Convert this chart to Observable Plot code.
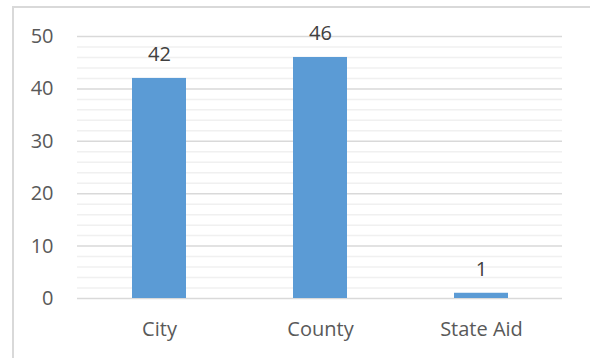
<!DOCTYPE html>
<html>
<head>
<meta charset="utf-8">
<script src="https://cdn.jsdelivr.net/npm/d3@7"></script>
<script src="https://cdn.jsdelivr.net/npm/@observablehq/plot@0.6"></script>
<style>
  html, body { margin: 0; padding: 0; background: #fff; }
  #wrap { position: relative; width: 590px; height: 358px; overflow: hidden; }
  #frame { position: absolute; left: 12px; top: 6px; width: 640px; height: 400px; border: 2px solid #d9d9d9; box-sizing: border-box; pointer-events: none; }
  #chart { position: absolute; left: 0; top: 0; }
</style>
</head>
<body>
<div id="wrap"><div id="frame"></div><div id="chart"></div></div>
<script>
const categories = ["City", "County", "State Aid"];
const values = [42, 46, 1];
const majorTicks = [0, 10, 20, 30, 40, 50];
const minorTicks = [2, 4, 6, 8, 12, 14, 16, 18, 22, 24, 26, 28, 32, 34, 36, 38, 42, 44, 46, 48];

const data = categories.map((c, i) => ({category: c, value: values[i]}));
const font = "'Open Sans', 'Noto Sans', sans-serif";

const chart = Plot.plot({
  width: 590,
  height: 358,
  marginLeft: 77,
  marginRight: 28,
  marginTop: 36,
  marginBottom: 60,
  style: {fontFamily: font, fontSize: "20px", color: "#595959", background: "transparent"},
  x: {domain: categories, paddingInner: 0.667, paddingOuter: 0.3335, label: null, tickSize: 0, tickPadding: 23},
  y: {domain: [0, 50], ticks: majorTicks, label: null, tickSize: 0, tickPadding: 24},
  marks: [
    Plot.ruleY(minorTicks, {stroke: "#f0f0f0", strokeWidth: 1.5}),
    Plot.ruleY(majorTicks, {stroke: "#d9d9d9", strokeWidth: 1.5}),
    Plot.barY(data, {x: "category", y: "value", fill: "#5b9bd5"}),
    Plot.text(data, {x: "category", y: "value", text: d => String(d.value), lineAnchor: "bottom", dy: -17, fill: "#404040", fontSize: 20})
  ]
});
document.getElementById("chart").appendChild(chart);
</script>
</body>
</html>
